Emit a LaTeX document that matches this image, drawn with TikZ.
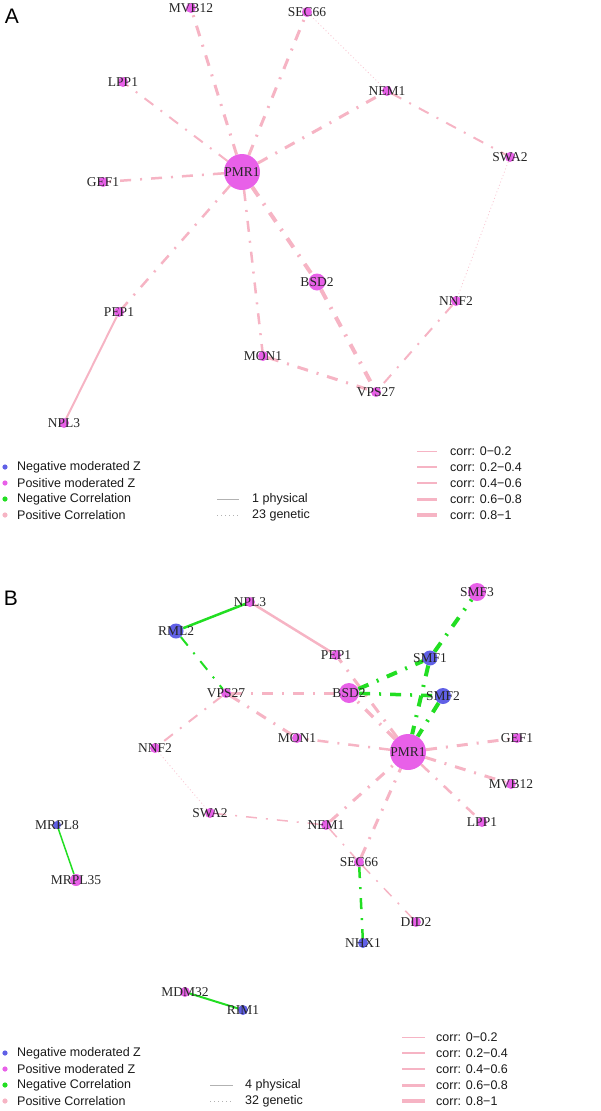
\documentclass[tikz,border=0pt]{standalone}
\usepackage{fontspec}
\setmainfont{Liberation Serif}
\setsansfont{Liberation Sans}
\usetikzlibrary{backgrounds}
\definecolor{posz}{RGB}{232,96,232}
\definecolor{negz}{RGB}{96,96,230}
\definecolor{poscor}{RGB}{246,180,196}
\definecolor{negcor}{RGB}{34,222,34}
\tikzset{
	genetext/.style={font=\fontsize{13.5}{13.5}\selectfont,text=black!85,inner sep=0pt},
	gene/.style={circle,fill=posz,inner sep=0pt,minimum size=10pt,label={[genetext]center:#1}},
	neg/.style={fill=negz},
	gen/.style={poscor,dash pattern=on 11pt off 9pt on 2pt off 9pt},
	weak/.style={poscor!75,line width=0.8pt,dash pattern=on 1pt off 2.5pt},
	legtext/.style={font=\sffamily\fontsize{12.5}{14}\selectfont,text=black!90,inner sep=0pt,anchor=west},
	panel/.style={font=\sffamily\fontsize{21}{21}\selectfont,inner sep=0pt}
}
\begin{document}
\begin{tikzpicture}[x=1pt,y=-1pt]
	\useasboundingbox (0,0) rectangle (600,1111);

	% panel A
	\node[panel] (labA) at (12,16) {A};
	\node[gene=PMR1,minimum size=36pt] (pmrA) at (242,172) {};
	\node[gene=MVB12] (mvbA) at (191,8) {};
	\node[gene=SEC66] (secA) at (307,12) {};
	\node[gene=LPP1] (lppA) at (123,82) {};
	\node[gene=NEM1] (nemA) at (387,91) {};
	\node[gene=GEF1] (gefA) at (103,182) {};
	\node[gene=SWA2] (swaA) at (510,157) {};
	\node[gene=BSD2,minimum size=17pt] (bsdA) at (317,282) {};
	\node[gene=NNF2] (nnfA) at (456,301) {};
	\node[gene=PEP1] (pepA) at (119,312) {};
	\node[gene=MON1] (monA) at (263,356) {};
	\node[gene=VPS27] (vpsA) at (376,392) {};
	\node[gene=NPL3] (nplA) at (64,423) {};

	\begin{pgfonlayer}{background}
		\draw[gen,line width=3pt] (pmrA) -- (mvbA);
		\draw[gen,line width=3pt] (pmrA) -- (secA);
		\draw[gen,line width=2pt] (pmrA) -- (lppA);
		\draw[gen,line width=2.5pt] (pmrA) -- (gefA);
		\draw[gen,line width=3pt] (pmrA) -- (nemA);
		\draw[gen,line width=2.5pt] (pmrA) -- (pepA);
		\draw[gen,line width=2.5pt] (pmrA) -- (monA);
		\draw[gen,line width=4pt] (pmrA) -- (bsdA);
		\draw[weak] (secA) -- (nemA);
		\draw[gen,line width=2pt] (nemA) -- (swaA);
		\draw[weak] (swaA) -- (nnfA);
		\draw[gen,line width=2pt] (nnfA) -- (vpsA);
		\draw[gen,line width=4pt] (bsdA) -- (vpsA);
		\draw[gen,line width=3pt] (monA) -- (vpsA);
		\draw[poscor,line width=2pt] (pepA) -- (nplA);
	\end{pgfonlayer}

	% legend A
	\foreach \c/\t [count=\i] in {negz/Negative moderated Z,posz/Positive moderated Z,negcor/Negative Correlation,poscor/Positive Correlation}{
		\fill[\c] (5,451+16*\i) circle (2.6pt);
		\node[legtext] (keyA\i) at (17,451+16*\i) {\t};
	}
	\node[legtext] (physA) at (252,499) {1 physical};
	\node[legtext] (geneA) at (252,515) {23 genetic};
	\draw[black!30,line width=0.8pt] (217,499) -- (239,499);
	\draw[black!30,line width=0.8pt,dash pattern=on 1pt off 3pt] (217,515) -- (239,515);
	\foreach \w/\t [count=\i] in {0.6/0−0.2,1.2/0.2−0.4,2/0.4−0.6,3/0.6−0.8,4/0.8−1}{
		\node[legtext] (corrA\i) at (450,435+16*\i) {corr: \t};
		\draw[poscor,line width=\w pt] (417,435+16*\i) -- (437,435+16*\i);
	}

	% panel B
	\node[panel] (labB) at (11,598) {B};
	\node[gene=NPL3] (nplB) at (250,602) {};
	\node[gene=RML2,neg,minimum size=15pt] (rmlB) at (176,631) {};
	\node[gene=SMF3,minimum size=18pt] (smf3B) at (477,592) {};
	\node[gene=PEP1] (pepB) at (336,655) {};
	\node[gene=SMF1,neg,minimum size=15pt] (smf1B) at (430,658) {};
	\node[gene=BSD2,minimum size=20pt] (bsdB) at (349,693) {};
	\node[gene=SMF2,neg,minimum size=16pt] (smf2B) at (443,696) {};
	\node[gene=VPS27] (vpsB) at (226,693) {};
	\node[gene=MON1] (monB) at (297,738) {};
	\node[gene=PMR1,minimum size=36pt] (pmrB) at (408,752) {};
	\node[gene=GEF1] (gefB) at (517,738) {};
	\node[gene=NNF2] (nnfB) at (155,748) {};
	\node[gene=MVB12] (mvbB) at (511,784) {};
	\node[gene=SWA2] (swaB) at (210,813) {};
	\node[gene=LPP1] (lppB) at (482,822) {};
	\node[gene=NEM1] (nemB) at (326,825) {};
	\node[gene=MRPL8,neg,minimum size=8pt] (mrpl8B) at (57,825) {};
	\node[gene=MRPL35,minimum size=12pt] (mrpl35B) at (76,880) {};
	\node[gene=SEC66] (secB) at (359,862) {};
	\node[gene=DID2] (didB) at (416,922) {};
	\node[gene=NHX1,neg] (nhxB) at (363,943) {};
	\node[gene=MDM32] (mdmB) at (185,992) {};
	\node[gene=RIM1,neg] (rimB) at (243,1010) {};

	\begin{pgfonlayer}{background}
		\draw[negcor,line width=2.5pt] (rmlB) -- (nplB);
		\draw[poscor,line width=2.5pt] (nplB) -- (pepB);
		\draw[gen,negcor,line width=2pt] (rmlB) -- (vpsB);
		\draw[gen,line width=3pt] (vpsB) -- (bsdB);
		\draw[gen,line width=3pt] (vpsB) -- (monB);
		\draw[gen,line width=2pt] (vpsB) -- (nnfB);
		\draw[weak] (nnfB) -- (swaB);
		\draw[gen,line width=1.5pt] (swaB) -- (nemB);
		\draw[gen,line width=1.5pt] (nemB) -- (secB);
		\draw[gen,line width=3pt] (nemB) -- (pmrB);
		\draw[gen,line width=1.5pt] (secB) -- (didB);
		\draw[gen,negcor,line width=2.5pt] (secB) -- (nhxB);
		\draw[gen,line width=3pt] (secB) -- (pmrB);
		\draw[gen,line width=2.5pt] (pmrB) -- (monB);
		\draw[gen,line width=3pt] (pmrB) -- (gefB);
		\draw[gen,line width=3pt] (pmrB) -- (mvbB);
		\draw[gen,line width=2.5pt] (pmrB) -- (lppB);
		\draw[gen,line width=3.5pt] (pmrB) -- (bsdB);
		\draw[gen,line width=3pt] (pmrB) -- (pepB);
		\draw[gen,negcor,line width=4pt] (bsdB) -- (smf1B);
		\draw[gen,negcor,line width=3.5pt] (bsdB) -- (smf2B);
		\draw[gen,negcor,line width=4pt] (smf1B) -- (smf3B);
		\draw[gen,negcor,line width=4pt] (smf1B) -- (pmrB);
		\draw[gen,negcor,line width=4pt] (smf2B) -- (pmrB);
		\draw[negcor,line width=1.5pt] (mrpl8B) -- (mrpl35B);
		\draw[negcor,line width=2pt] (mdmB) -- (rimB);
	\end{pgfonlayer}

	% legend B
	\foreach \c/\t [count=\i] in {negz/Negative moderated Z,posz/Positive moderated Z,negcor/Negative Correlation,poscor/Positive Correlation}{
		\fill[\c] (5,1037+16*\i) circle (2.6pt);
		\node[legtext] (keyB\i) at (17,1037+16*\i) {\t};
	}
	\node[legtext] (physB) at (245,1085) {4 physical};
	\node[legtext] (geneB) at (245,1101) {32 genetic};
	\draw[black!30,line width=0.8pt] (210,1085) -- (233,1085);
	\draw[black!30,line width=0.8pt,dash pattern=on 1pt off 3pt] (210,1101) -- (233,1101);
	\foreach \w/\t [count=\i] in {0.6/0−0.2,1.2/0.2−0.4,2/0.4−0.6,3/0.6−0.8,4/0.8−1}{
		\node[legtext] (corrB\i) at (436,1021+16*\i) {corr: \t};
		\draw[poscor,line width=\w pt] (402,1021+16*\i) -- (425,1021+16*\i);
	}
\end{tikzpicture}
\end{document}
